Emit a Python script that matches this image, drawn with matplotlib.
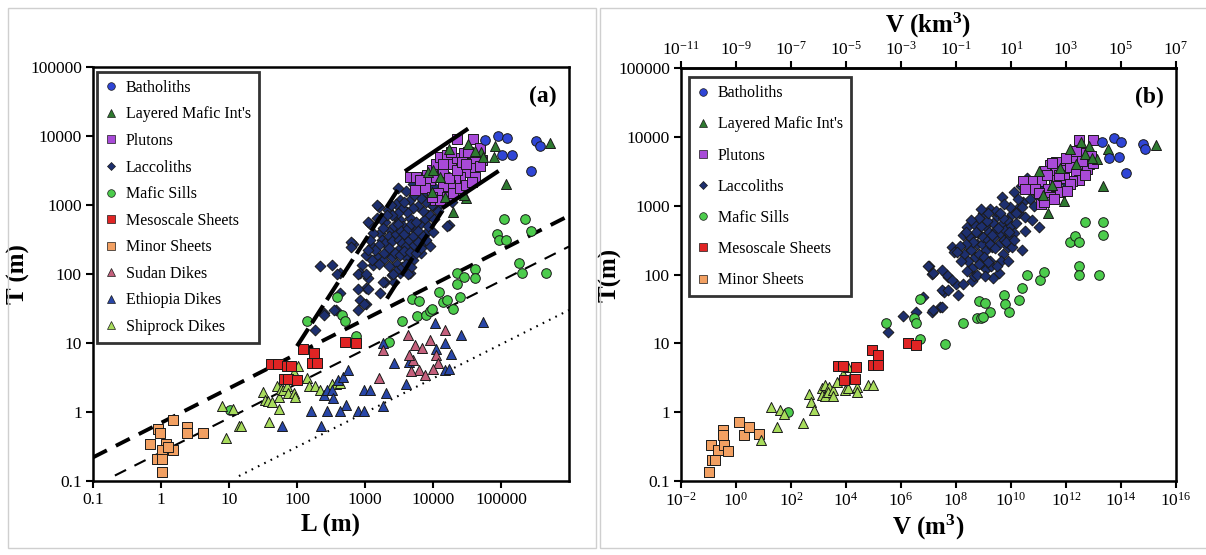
import numpy as np
import matplotlib
matplotlib.use("Agg")
import matplotlib.pyplot as plt
from matplotlib.lines import Line2D
from matplotlib.patches import Rectangle
from matplotlib.ticker import FixedLocator, FixedFormatter, NullLocator, LogFormatterSciNotation

plt.rcParams["font.family"] = ["Liberation Serif", "DejaVu Serif"]
plt.rcParams["mathtext.fontset"] = "custom"
plt.rcParams["mathtext.rm"] = "Liberation Serif"
plt.rcParams["mathtext.it"] = "Liberation Serif:italic"
plt.rcParams["mathtext.bf"] = "Liberation Serif:bold"

# ---------------- panel (a): log10 L (m), log10 T (m) ----------------
bath_a = [(4.77, 3.94), (4.95, 4.00), (5.09, 3.97), (5.02, 3.72), (5.16, 3.72),
          (5.44, 3.49), (5.52, 3.93), (5.58, 3.86)]
lmi_a = [(4.24, 3.81), (4.52, 3.88), (4.71, 3.77), (4.91, 3.85), (4.90, 3.70), (4.74, 3.70),
         (5.07, 3.31), (5.72, 3.90), (4.48, 3.10), (4.30, 2.90), (3.93, 3.48), (4.00, 3.51),
         (3.98, 3.19), (4.18, 3.12), (4.45, 3.14), (4.10, 3.40), (4.62, 3.78)]
plut_a = [(3.66, 3.40), (3.75, 3.41), (3.83, 3.27), (3.91, 3.43), (3.98, 3.51), (4.05, 3.60),
          (4.10, 3.70), (4.20, 3.72), (4.27, 3.60), (4.35, 3.68), (4.45, 3.75), (4.52, 3.77),
          (4.59, 3.95), (4.69, 3.82), (4.72, 3.65), (4.62, 3.63), (4.54, 3.53), (4.47, 3.48),
          (4.40, 3.41), (4.32, 3.36), (4.25, 3.29), (4.15, 3.27), (4.08, 3.17), (4.03, 3.07),
          (4.10, 3.07), (4.20, 3.12), (4.30, 3.17), (4.40, 3.24), (4.49, 3.29), (3.96, 3.36),
          (3.88, 3.24), (3.74, 3.22), (3.98, 3.12), (4.05, 3.41), (4.15, 3.48), (4.23, 3.39),
          (4.35, 3.51), (4.69, 3.56), (4.62, 3.41), (4.57, 3.34), (4.42, 3.63), (4.27, 3.77),
          (4.49, 3.60), (4.15, 3.60), (3.81, 3.36), (4.36, 3.95)]
lacc_a = [(3.66, 3.07), (3.51, 3.07), (3.76, 3.22), (3.93, 3.07), (4.00, 2.98), (4.10, 3.02),
          (4.23, 3.41), (4.35, 3.27), (4.54, 3.48), (4.00, 3.27), (3.93, 2.86), (3.21, 2.97),
          (3.34, 2.93), (3.18, 2.81), (3.22, 2.60), (3.37, 2.64), (3.44, 2.84), (3.51, 2.78),
          (3.56, 2.69), (3.66, 2.81), (3.73, 2.64), (3.81, 2.73), (3.60, 2.57), (3.76, 2.54),
          (3.91, 2.61), (3.83, 2.44), (3.69, 2.40), (3.51, 2.37), (3.32, 2.32), (3.17, 2.25),
          (3.02, 2.27), (2.95, 2.13), (3.12, 2.13), (3.27, 2.20), (3.39, 2.25), (3.47, 2.15),
          (3.61, 2.25), (3.71, 2.20), (3.83, 2.30), (3.96, 2.40), (4.00, 2.61), (4.24, 2.71),
          (3.07, 2.73), (2.82, 2.43), (3.10, 2.40), (2.51, 2.13), (2.63, 2.01), (2.92, 2.01),
          (3.05, 1.94), (3.02, 1.79), (3.22, 1.72), (3.29, 1.89), (3.39, 1.99), (3.42, 1.89),
          (3.51, 2.01), (3.66, 2.01), (2.93, 1.62), (3.02, 1.57), (2.40, 1.43), (2.58, 1.48),
          (2.26, 1.19), (2.63, 1.72), (3.25, 2.50), (3.30, 2.45), (3.35, 2.55), (3.40, 2.48),
          (3.45, 2.58), (3.50, 2.50), (3.55, 2.45), (3.60, 2.40), (3.65, 2.50), (3.70, 2.55),
          (3.42, 2.70), (3.48, 2.72), (3.53, 2.62), (3.58, 2.58), (3.63, 2.66), (3.68, 2.72),
          (3.75, 2.76), (3.78, 2.62), (3.86, 2.55), (3.88, 2.80), (3.30, 2.75), (3.26, 2.66),
          (3.20, 2.42), (3.15, 2.35), (3.28, 2.30), (3.36, 2.38), (3.44, 2.30), (3.52, 2.28),
          (3.58, 2.34), (3.66, 2.32), (3.72, 2.42), (3.78, 2.47), (3.92, 2.70), (3.96, 2.85),
          (3.85, 2.92), (3.78, 2.98), (3.70, 2.95), (3.62, 2.90), (3.55, 2.95), (3.48, 2.88),
          (3.40, 2.85), (3.32, 2.85), (3.24, 2.80), (3.12, 2.60), (3.08, 2.50), (3.05, 2.35),
          (3.10, 2.20), (3.20, 2.15), (3.35, 2.12), (3.45, 2.05), (3.55, 2.10), (3.60, 2.15),
          (3.68, 2.10), (3.75, 2.30), (3.82, 2.38), (3.90, 2.50), (4.02, 2.80), (4.08, 2.92),
          (3.98, 3.00), (3.90, 3.05), (3.82, 3.10), (3.72, 3.15), (3.60, 3.20), (3.70, 3.30),
          (3.80, 3.28), (3.88, 3.20), (4.05, 3.15), (4.15, 3.22), (4.28, 3.05), (3.45, 3.02),
          (3.38, 3.00), (3.58, 3.05), (3.49, 3.24), (4.20, 2.70), (2.39, 1.41), (2.55, 1.48),
          (2.89, 1.48), (2.99, 1.56), (2.90, 1.78), (3.04, 1.78), (2.89, 2.00), (3.01, 2.00),
          (2.59, 2.00), (2.34, 2.12), (2.79, 2.46), (2.79, 2.39), (3.04, 2.75), (3.18, 3.00),
          (3.27, 1.88), (3.41, 2.00), (3.63, 2.00)]
sill_a = [(1.01, 0.03), (2.14, 1.32), (2.59, 1.67), (2.66, 1.41), (2.71, 1.32), (2.87, 1.10),
          (3.36, 1.02), (3.54, 1.32), (3.69, 1.64), (3.80, 1.61), (3.77, 1.39), (3.90, 1.41),
          (3.95, 1.47), (3.98, 1.50), (4.09, 1.74), (4.14, 1.60), (4.21, 1.62), (4.29, 1.49),
          (4.39, 1.66), (4.36, 1.85), (4.35, 2.02), (4.45, 1.96), (4.62, 2.07), (4.62, 1.94),
          (5.04, 2.79), (5.36, 2.79), (4.94, 2.58), (4.97, 2.50), (5.07, 2.49), (5.44, 2.62),
          (5.27, 2.16), (5.31, 2.02), (5.66, 2.02)]
meso_a = [(1.62, 0.69), (1.72, 0.69), (1.85, 0.67), (1.91, 0.67), (1.81, 0.48), (1.87, 0.48),
          (2.00, 0.46), (2.09, 0.92), (2.25, 0.86), (2.22, 0.71), (2.29, 0.71), (2.71, 1.01),
          (2.87, 1.00)]
minor_a = [(-0.16, -0.46), (-0.05, -0.25), (-0.02, -0.31), (0.07, -0.46), (0.18, -0.12),
           (0.01, -0.55), (-0.06, -0.68), (0.02, -0.68), (0.01, -0.87), (0.18, -0.55),
           (0.38, -0.21), (0.38, -0.31), (0.62, -0.31), (0.10, -0.50)]
sudan_a = [(3.21, 0.49), (3.26, 0.90), (3.63, 1.12), (3.70, 0.75), (3.79, 0.61), (3.88, 0.54),
           (3.95, 1.05), (4.04, 0.83), (4.08, 0.71), (3.74, 0.97), (3.65, 0.83), (4.18, 1.19),
           (3.67, 0.60), (3.84, 0.93), (4.00, 0.62)]
ethi_a = [(1.78, -0.20), (2.20, 0.01), (2.36, -0.20), (2.44, 0.02), (2.39, 0.25), (2.44, 0.32),
          (2.51, 0.32), (2.53, 0.21), (2.61, 0.46), (2.68, 0.51), (2.72, 0.10), (2.75, 0.61),
          (2.63, 0.02), (2.90, 0.02), (2.98, 0.02), (2.99, 0.32), (3.07, 0.32), (3.31, 0.27),
          (3.27, 0.09), (3.43, 0.71), (3.61, 0.40), (3.65, 0.73), (4.04, 0.92), (4.03, 1.29),
          (4.17, 1.00), (4.17, 0.61), (4.24, 0.63), (4.27, 0.84), (4.41, 1.12), (4.73, 1.31),
          (3.27, 1.00)]
ship_a = [(0.90, 0.09), (0.96, -0.38), (1.06, 0.05), (1.14, -0.20), (1.17, -0.20), (1.50, 0.29),
          (1.53, 0.17), (1.58, 0.16), (1.59, -0.14), (1.63, 0.15), (1.73, 0.05), (1.70, 0.38),
          (1.73, 0.22), (1.76, 0.34), (1.80, 0.32), (1.85, 0.37), (1.87, 0.27), (1.95, 0.28),
          (1.97, 0.22), (2.02, 0.67), (1.96, 0.58), (2.14, 0.49), (2.17, 0.37), (2.26, 0.38),
          (2.34, 0.32), (2.51, 0.41), (2.57, 0.41), (2.63, 0.42)]

# trend lines of panel (a), end points in data units
thick_dash_L, thick_dash_T = [0.1, 1e6], [0.22, 700]
thin_dash_L, thin_dash_T = [0.21, 1e6], [0.12, 250]
dotted_L, dotted_T = [14, 1e6], [0.118, 30]
steep_up_L, steep_up_T = [100, 3200], [9, 1800]
flat_up_L, flat_up_T = [4100, 31000], [3200, 12300]
steep_lo_L, steep_lo_T = [2100, 14000], [44, 850]
flat_lo_L, flat_lo_T = [14500, 87000], [930, 3000]

# ---------------- panel (b): log10 V (m3), log10 T (m) ----------------
bath_b = [(13.30, 3.92), (13.75, 3.98), (14.00, 3.93), (13.58, 3.69), (13.94, 3.71),
          (14.20, 3.47), (14.81, 3.90), (14.88, 3.83)]
lmi_b = [(15.27, 3.88), (13.33, 3.29), (13.54, 3.83), (13.12, 3.68), (12.84, 3.87), (12.13, 3.82),
         (11.92, 3.07), (11.36, 2.89), (11.15, 3.15), (11.01, 3.51), (12.70, 3.75), (12.35, 3.60),
         (11.78, 3.55), (12.95, 3.70), (11.50, 3.30), (12.55, 3.92)]
plut_b = [(12.49, 3.95), (12.98, 3.95), (12.63, 3.77), (12.91, 3.72), (12.84, 3.61), (12.49, 3.59),
          (12.28, 3.68), (11.85, 3.61), (11.64, 3.64), (11.43, 3.59), (11.22, 3.51), (11.64, 3.51),
          (11.92, 3.52), (12.13, 3.56), (12.35, 3.46), (12.49, 3.38), (12.21, 3.36), (11.92, 3.41),
          (11.57, 3.38), (11.08, 3.36), (10.77, 3.36), (10.45, 3.36), (10.52, 3.25), (10.87, 3.25),
          (11.36, 3.25), (11.64, 3.28), (12.13, 3.31), (11.78, 3.20), (11.43, 3.13), (11.08, 3.02),
          (11.57, 3.10), (11.01, 3.18), (12.77, 3.54), (12.00, 3.70), (12.35, 3.80), (11.75, 3.45),
          (11.30, 3.45), (12.60, 3.65), (13.00, 3.62), (12.70, 3.45), (11.20, 3.05), (12.05, 3.22),
          (11.50, 3.62)]
lacc_b = [(5.52, 1.17), (6.09, 1.40), (6.55, 1.45), (7.14, 1.45), (7.42, 1.53), (6.79, 1.68),
          (7.03, 2.12), (7.11, 2.01), (7.70, 1.97), (7.99, 1.86), (7.56, 1.74), (8.06, 1.71),
          (7.87, 2.40), (7.92, 2.33), (7.48, 1.78), (7.72, 1.78), (7.48, 1.53), (7.18, 1.49),
          (8.27, 1.87), (8.57, 1.90), (7.66, 1.99), (7.85, 1.92), (8.27, 2.58), (8.41, 2.69),
          (8.66, 2.74), (8.97, 2.89), (9.25, 2.95), (8.30, 2.30), (8.45, 2.20), (8.55, 2.35),
          (8.60, 2.10), (8.70, 2.25), (8.75, 2.45), (8.80, 2.60), (8.85, 2.30), (8.90, 2.15),
          (8.95, 2.45), (9.00, 2.55), (9.05, 2.70), (9.10, 2.35), (9.15, 2.50), (9.20, 2.62),
          (9.25, 2.20), (9.30, 2.40), (9.35, 2.75), (9.40, 2.55), (9.45, 2.65), (9.50, 2.85),
          (9.55, 2.45), (9.60, 2.60), (9.65, 2.72), (9.70, 2.30), (9.75, 2.50), (9.80, 2.65),
          (9.85, 2.80), (9.90, 2.40), (9.95, 2.55), (10.00, 2.70), (10.05, 2.88), (10.10, 2.60),
          (10.20, 2.75), (10.30, 2.90), (8.50, 2.55), (8.62, 2.48), (8.72, 2.62), (8.82, 2.15),
          (8.92, 2.70), (9.02, 2.25), (9.12, 2.78), (9.22, 2.45), (9.32, 2.58), (9.42, 2.38),
          (9.52, 2.68), (9.62, 2.20), (9.72, 2.82), (9.82, 2.48), (9.92, 2.62), (10.02, 2.40),
          (10.12, 2.50), (10.22, 2.95), (8.35, 2.45), (8.40, 2.05), (8.65, 1.98), (9.08, 2.08),
          (9.28, 2.12), (9.58, 2.02), (9.88, 2.20), (10.40, 2.35), (10.52, 2.84), (10.52, 2.64),
          (11.01, 2.69), (10.17, 2.89), (9.67, 3.13), (10.10, 3.20), (10.38, 3.28), (10.45, 3.05),
          (10.70, 3.10), (10.90, 3.18), (11.10, 3.30), (10.60, 3.40), (10.85, 3.00), (11.30, 3.20),
          (10.25, 3.10), (9.95, 2.98), (9.75, 3.02), (9.45, 2.92), (9.15, 2.90), (8.85, 2.82),
          (8.55, 2.80), (9.60, 2.90), (10.40, 2.98), (10.75, 2.80), (8.20, 2.20), (8.15, 2.42),
          (8.05, 2.33), (8.75, 2.00), (9.35, 1.95), (9.05, 1.98), (9.48, 2.12), (9.18, 2.18),
          (8.38, 2.62), (8.92, 2.95), (11.45, 3.42), (11.95, 3.34), (12.10, 3.58), (12.45, 3.52),
          (6.99, 2.12), (7.18, 2.02), (7.50, 2.06)]
sill_b = [(1.90, 0.00), (5.45, 1.29), (6.48, 1.37), (6.55, 1.29), (6.69, 1.65), (6.69, 1.07),
          (7.61, 0.99), (8.24, 1.29), (8.76, 1.37), (8.83, 1.61), (9.04, 1.58), (9.25, 1.45),
          (8.90, 1.37), (9.74, 1.71), (9.78, 1.57), (9.93, 1.45), (10.28, 1.63), (10.41, 1.81),
          (10.59, 1.99), (11.05, 1.92), (11.19, 2.04), (12.13, 2.48), (12.32, 2.56), (12.49, 2.48),
          (12.70, 2.77), (13.33, 2.77), (13.33, 2.58), (12.49, 2.13), (12.49, 1.99), (13.19, 1.99),
          (8.99, 1.38)]
meso_b = [(3.72, 0.67), (3.90, 0.67), (4.36, 0.66), (3.94, 0.47), (4.33, 0.48), (4.93, 0.90),
          (5.17, 0.83), (4.99, 0.69), (5.17, 0.69), (6.27, 1.00), (6.55, 0.98)]
minor_b = [(-0.97, -0.87), (-0.88, -0.69), (-0.78, -0.69), (-0.92, -0.48), (-0.48, -0.26),
           (-0.48, -0.33), (-0.64, -0.55), (-0.43, -0.48), (-0.28, -0.56), (0.12, -0.14),
           (0.29, -0.33), (0.48, -0.22), (0.85, -0.32)]
ship_b = [(1.27, 0.08), (1.60, 0.03), (1.75, -0.02), (1.48, -0.21), (2.43, -0.15), (0.90, -0.40),
          (2.67, 0.27), (2.72, 0.15), (2.84, 0.03), (3.12, 0.35), (3.24, 0.40), (3.39, 0.37),
          (3.14, 0.25), (3.24, 0.23), (3.36, 0.30), (3.54, 0.32), (3.54, 0.23), (3.66, 0.44),
          (3.88, 0.56), (3.96, 0.32), (4.08, 0.35), (4.15, 0.49), (4.39, 0.37), (4.39, 0.30),
          (4.81, 0.40), (4.99, 0.40), (4.08, 0.66)]

STYLE = {
    "Batholiths": dict(marker="o", fc="#2f45d6", s=48),
    "Layered Mafic Int's": dict(marker="^", fc="#2e7a30", s=52),
    "Plutons": dict(marker="s", fc="#a84ad8", s=46),
    "Laccoliths": dict(marker="D", fc="#1d2f6e", s=30),
    "Mafic Sills": dict(marker="o", fc="#4ccc4c", s=48),
    "Mesoscale Sheets": dict(marker="s", fc="#e02424", s=46),
    "Minor Sheets": dict(marker="s", fc="#f2a062", s=46),
    "Sudan Dikes": dict(marker="^", fc="#c4607c", s=52),
    "Ethiopia Dikes": dict(marker="^", fc="#2846a8", s=52),
    "Shiprock Dikes": dict(marker="^", fc="#a8dc5c", s=52),
}
ORDER_A = ["Batholiths", "Layered Mafic Int's", "Plutons", "Laccoliths", "Mafic Sills",
           "Mesoscale Sheets", "Minor Sheets", "Sudan Dikes", "Ethiopia Dikes", "Shiprock Dikes"]
ORDER_B = ORDER_A[:7]
TICKS_T = [0.1, 1, 10, 100, 1000, 10000, 100000]
TICK_LABELS = ["0.1", "1", "10", "100", "1000", "10000", "100000"]

fig = plt.figure(figsize=(12.06, 5.55), dpi=100)
fig.add_artist(Rectangle((0.0066, 0.0126), 0.4876, 0.973, transform=fig.transFigure,
                         fill=False, ec="#cfcfcf", lw=1))
fig.add_artist(Rectangle((0.4975, 0.0126), 0.51, 0.973, transform=fig.transFigure,
                         fill=False, ec="#cfcfcf", lw=1))

axa = fig.add_axes([0.0771, 0.1333, 0.3947, 0.746])
axb = fig.add_axes([0.5647, 0.1333, 0.4104, 0.744])


def scatter(ax, pts, name):
    p = np.array(pts)
    st = STYLE[name]
    ax.scatter(10 ** p[:, 0], 10 ** p[:, 1], marker=st["marker"], s=st["s"], c=st["fc"],
               edgecolors="#1a1a1a", linewidths=0.7, zorder=3)


def legend(ax, names, anchor, spacing):
    handles = [Line2D([], [], ls="none", marker=STYLE[n]["marker"], mfc=STYLE[n]["fc"],
                      mec="#1a1a1a", mew=0.5, ms=5.5 if STYLE[n]["marker"] != "D" else 4.5)
               for n in names]
    leg = ax.legend(handles, names, loc="upper left", bbox_to_anchor=anchor,
                    bbox_transform=ax.transAxes, borderaxespad=0, frameon=True, fancybox=False,
                    edgecolor="black", fontsize=11.5, labelspacing=spacing, handlelength=0.8,
                    handletextpad=0.5, borderpad=0.5)
    leg.get_frame().set_linewidth(2.0)
    leg.set_zorder(5)


# ---- panel (a)
ax = axa
ax.plot(thick_dash_L, thick_dash_T, color="black", lw=2.8, dashes=(4, 2.6), zorder=2)
ax.plot(thin_dash_L, thin_dash_T, color="black", lw=1.5, dashes=(6, 4.5), zorder=2)
ax.plot(dotted_L, dotted_T, color="black", lw=1.5, dashes=(0.8, 2.6), zorder=2)
ax.plot(steep_up_L, steep_up_T, color="black", lw=3.0, dashes=(5, 1.6), zorder=4)
ax.plot(flat_up_L, flat_up_T, color="black", lw=3.0, zorder=4)
ax.plot(steep_lo_L, steep_lo_T, color="black", lw=3.0, dashes=(5, 1.6), zorder=4)
ax.plot(flat_lo_L, flat_lo_T, color="black", lw=3.0, zorder=4)
for pts, name in [(lacc_a, "Laccoliths"), (plut_a, "Plutons"), (lmi_a, "Layered Mafic Int's"),
                  (bath_a, "Batholiths"), (sill_a, "Mafic Sills"), (minor_a, "Minor Sheets"),
                  (ship_a, "Shiprock Dikes"), (meso_a, "Mesoscale Sheets"),
                  (ethi_a, "Ethiopia Dikes"), (sudan_a, "Sudan Dikes")]:
    scatter(ax, pts, name)
ax.set_xscale("log")
ax.set_yscale("log")
ax.set_xlim(0.1, 1e6)
ax.set_ylim(0.1, 1e5)
ax.xaxis.set_major_locator(FixedLocator(TICKS_T))
ax.xaxis.set_major_formatter(FixedFormatter(TICK_LABELS))
ax.set_xlabel("L (m)", fontsize=18, fontweight="bold", labelpad=4)
ax.set_ylabel("T (m)", fontsize=18, fontweight="bold")
ax.yaxis.set_label_coords(-0.132, 0.5)
ax.text(0.975, 0.955, "(a)", transform=ax.transAxes, ha="right", va="top",
        fontsize=17, fontweight="bold")
legend(ax, ORDER_A, (0.008, 0.988), 0.66)

# ---- panel (b)
ax = axb
for pts, name in [(lacc_b, "Laccoliths"), (plut_b, "Plutons"), (lmi_b, "Layered Mafic Int's"),
                  (bath_b, "Batholiths"), (sill_b, "Mafic Sills"), (minor_b, "Minor Sheets"),
                  (ship_b, "Shiprock Dikes"), (meso_b, "Mesoscale Sheets")]:
    scatter(ax, pts, name)
ax.set_xscale("log")
ax.set_yscale("log")
ax.set_xlim(1e-2, 1e16)
ax.set_ylim(0.1, 1e5)
ax.xaxis.set_major_locator(FixedLocator([10.0 ** k for k in range(-2, 17, 2)]))
ax.xaxis.set_major_formatter(LogFormatterSciNotation())
ax.set_xlabel(r"V (m$^{\mathbf{3}}$)", fontsize=18, fontweight="bold", labelpad=2)
ax.set_ylabel("T(m)", fontsize=18, fontweight="bold")
ax.yaxis.set_label_coords(-0.12, 0.5)
ax.text(0.975, 0.955, "(b)", transform=ax.transAxes, ha="right", va="top",
        fontsize=17, fontweight="bold")
legend(ax, ORDER_B, (0.016, 0.978), 0.95)
sec = ax.secondary_xaxis("top", functions=(lambda v: v / 1e9, lambda k: k * 1e9))
sec.xaxis.set_major_locator(FixedLocator([10.0 ** k for k in range(-11, 8, 2)]))
sec.xaxis.set_major_formatter(LogFormatterSciNotation())
sec.xaxis.set_minor_locator(NullLocator())
sec.set_xlabel(r"V (km$^{\mathbf{3}}$)", fontsize=18, fontweight="bold", labelpad=6)
sec.tick_params(axis="x", direction="out", length=5, width=1.5, labelsize=12.5, pad=2)
sec.spines["top"].set_linewidth(1.8)

for ax in (axa, axb):
    ax.yaxis.set_major_locator(FixedLocator(TICKS_T))
    ax.yaxis.set_major_formatter(FixedFormatter(TICK_LABELS))
    ax.xaxis.set_minor_locator(NullLocator())
    ax.yaxis.set_minor_locator(NullLocator())
    for s in ax.spines.values():
        s.set_linewidth(1.8)
    ax.tick_params(direction="out", length=5, width=1.5, labelsize=12.5, pad=3)

fig.savefig("out.png", dpi=100)
